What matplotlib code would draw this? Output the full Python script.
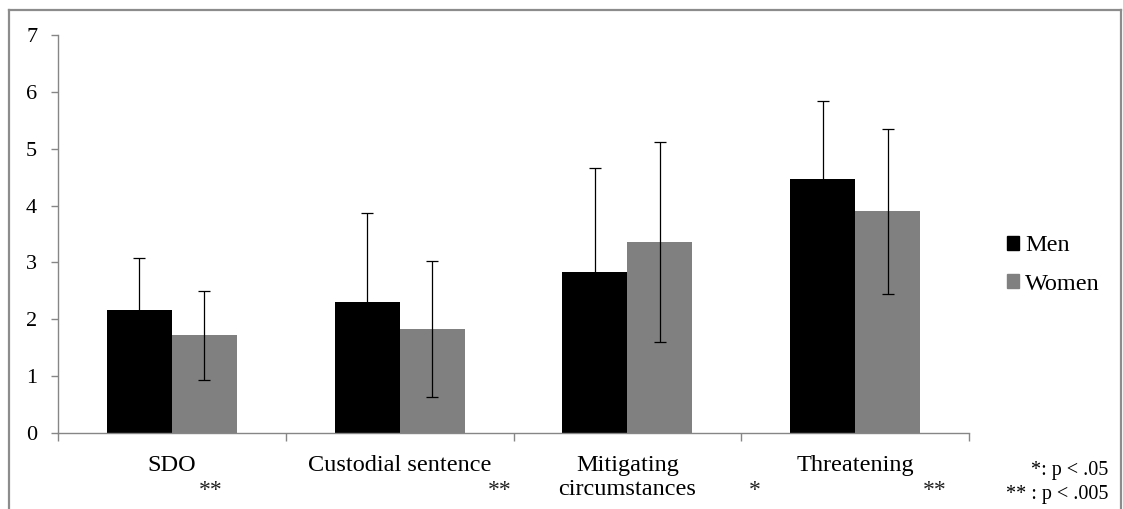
import numpy as np
import matplotlib
matplotlib.use("Agg")
import matplotlib.pyplot as plt
from matplotlib.lines import Line2D
from matplotlib.patches import Patch

plt.rcParams['font.family'] = ['Liberation Serif', 'DejaVu Serif']

# data
categories = ['SDO', 'Custodial sentence', 'Mitigating\ncircumstances', 'Threatening']
men_means = [2.16, 2.30, 2.84, 4.47]
men_sd = [0.92, 1.57, 1.82, 1.37]
women_means = [1.72, 1.83, 3.36, 3.90]
women_sd = [0.78, 1.19, 1.76, 1.45]
series_names = ['Men', 'Women']
yticks = [0, 1, 2, 3, 4, 5, 6, 7]
# significance marks under the categories: (x in data units, text)
sig_marks = [(0.17, '**'), (1.44, '**'), (2.56, '*'), (3.35, '**')]
note_lines = ['*: p < .05', '** : p < .005']

W, H = 1123, 509
fig = plt.figure(figsize=(W / 100, H / 100), dpi=100)
ax = fig.add_axes([58 / W, 1 - 433 / H, (969 - 58) / W, (433 - 35) / H])

AXC = '#868686'
BLACK = '#000000'
GRAY = '#808080'

x = np.arange(len(categories))
bw = 1 / 3.5  # excel gap width 150%

ax.bar(x - bw / 2, men_means, bw, color=BLACK, label=series_names[0], zorder=2)
ax.bar(x + bw / 2, women_means, bw, color=GRAY, label=series_names[1], zorder=2)
ax.errorbar(x - bw / 2, men_means, yerr=men_sd, fmt='none', ecolor=BLACK,
            elinewidth=0.9, capsize=4, capthick=0.9, zorder=3)
ax.errorbar(x + bw / 2, women_means, yerr=women_sd, fmt='none', ecolor=BLACK,
            elinewidth=0.9, capsize=4, capthick=0.9, zorder=3)

ax.set_xlim(-0.5, len(categories) - 0.5)
ax.set_ylim(0, 7)
ax.set_yticks(yticks)
ax.tick_params(axis='y', direction='out', length=5, color=AXC, width=1,
               labelsize=16, pad=10)

# category labels at centres, tick marks at boundaries
ax.set_xticks(x)
ax.set_xticklabels(categories, fontsize=17.5, linespacing=1.15)
ax.tick_params(axis='x', which='major', length=0, pad=16)
ax.set_xticks(np.arange(len(categories) + 1) - 0.5, minor=True)
ax.tick_params(axis='x', which='minor', direction='out', length=6, color=AXC, width=1)

for s in ['top', 'right']:
    ax.spines[s].set_visible(False)
for s in ['left', 'bottom']:
    ax.spines[s].set_color(AXC)
    ax.spines[s].set_linewidth(1)

# significance stars
for xs, t in sig_marks:
    ax.text(xs, -(490 - 433) / (433 - 35), t, transform=ax.get_xaxis_transform(),
            fontsize=17, ha='center', va='center', color='#222222')

fig.text(1108 / W, 1 - 471 / H, note_lines[0], ha='right', va='center', fontsize=14.5)
fig.text(1108 / W, 1 - 494 / H, note_lines[1], ha='right', va='center', fontsize=14.5)

handles = [Patch(color=BLACK), Patch(color=GRAY)]
fig.legend(handles, series_names, loc='center left',
           bbox_to_anchor=(995 / W, 1 - 265 / H), frameon=False,
           fontsize=17.5, handlelength=0.5, handleheight=0.5,
           handletextpad=0.25, labelspacing=0.7, borderpad=0)

# outer frame
fc = '#8c8c8c'
fig.add_artist(Line2D([9 / W, 9 / W], [0, 1 - 10 / H], color=fc, lw=1.6))
fig.add_artist(Line2D([9 / W, 1121 / W], [1 - 10 / H, 1 - 10 / H], color=fc, lw=1.6))
fig.add_artist(Line2D([1121 / W, 1121 / W], [0, 1 - 10 / H], color=fc, lw=1.6))

fig.savefig('out.png', dpi=100, facecolor='white')
